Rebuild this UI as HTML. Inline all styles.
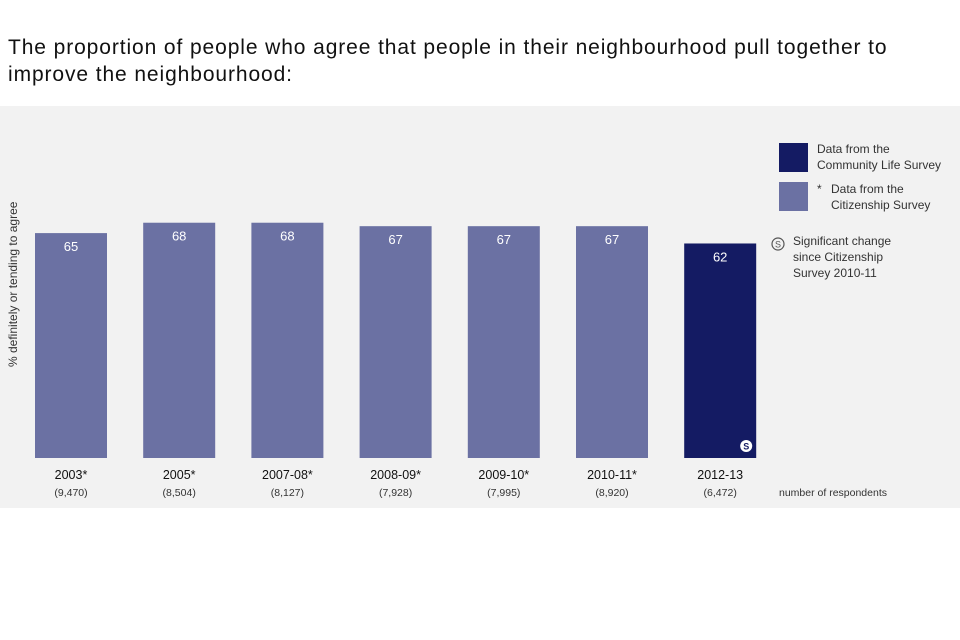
<!DOCTYPE html>
<html><head><meta charset="utf-8"><style>
body{margin:0;width:960px;height:640px;background:#fff;font-family:"Liberation Sans",sans-serif;position:relative;overflow:hidden}
#title{position:absolute;left:8px;top:34px;font-size:21px;letter-spacing:0.9px;line-height:27px;color:#111;width:952px;white-space:nowrap}
#panel{position:absolute;left:0;top:106px;width:960px;height:402px;background:#f2f2f2}
svg{position:absolute;left:0;top:0}
</style></head><body>
<div id="title">The proportion of people who agree that people in their neighbourhood pull together to<br>improve the neighbourhood:</div>
<div id="panel"></div>
<svg id="chart" width="960" height="640"></svg>
<script>
const categories=["2003*","2005*","2007-08*","2008-09*","2009-10*","2010-11*","2012-13"];
const values=[65,68,68,67,67,67,62];
const respondents=["(9,470)","(8,504)","(8,127)","(7,928)","(7,995)","(8,920)","(6,472)"];
const surveyType=["cs","cs","cs","cs","cs","cs","cls"];
const NS="http://www.w3.org/2000/svg";
const svg=document.getElementById('chart');
const baseY=458,unit=3.46,x0=35,step=108.2,bw=72;
const xPos=i=>x0+i*step;
const yPos=v=>baseY-v*unit;
function mk(t,a,txt){const e=document.createElementNS(NS,t);for(const k in a)e.setAttribute(k,a[k]);if(txt!=null)e.textContent=txt;svg.appendChild(e);return e;}
categories.forEach((c,i)=>{
  const v=values[i],x=xPos(i),y=yPos(v);
  const col=surveyType[i]==="cls"?"#141b63":"#6b71a3";
  const r=mk('rect',{x:x,y:y,width:bw,height:baseY-y,fill:col});
  
  
  const t=mk('text',{x:x+bw/2,y:y+18,'text-anchor':'middle','font-size':13,fill:'#fff'},v);
  
  
  const l=mk('text',{x:x+bw/2,y:479,'text-anchor':'middle','font-size':12.5,fill:'#111'},c);
  
  
  const n=mk('text',{x:x+bw/2,y:496,'text-anchor':'middle','font-size':10.5,fill:'#333'},respondents[i]);
  
  
  if(surveyType[i]==="cls"){
    const s=mk('circle',{cx:x+bw-10,cy:baseY-12,r:6,fill:'#fff'});
    
    
    const st=mk('text',{x:x+bw-10,y:baseY-8.5,'text-anchor':'middle','font-size':9,fill:'#141b63','font-weight':'bold'},'S');
    
    
  }
});
</script>
<svg width="960" height="640" font-family="Liberation Sans, sans-serif">
<text transform="translate(17,367) rotate(-90)" font-size="12" fill="#333">% definitely or tending to agree</text>
<text x="779" y="496" font-size="10.5" fill="#333">number of respondents</text>
<rect x="779" y="143" width="29" height="29" fill="#141b63"/>
<text x="817" y="153" font-size="12" fill="#333"><tspan x="817">Data from the</tspan><tspan x="817" dy="16">Community Life Survey</tspan></text>
<rect x="779" y="182" width="29" height="29" fill="#6b71a3"/>
<text x="817" y="193" font-size="12" fill="#333"><tspan>*</tspan><tspan x="831">Data from the</tspan><tspan x="831" dy="16">Citizenship Survey</tspan></text>
<circle cx="778" cy="244" r="6" fill="none" stroke="#555" stroke-width="1.2"/>
<text x="778" y="247.5" font-size="9" text-anchor="middle" fill="#555">S</text>
<text x="793" y="245" font-size="12" fill="#333"><tspan x="793">Significant change</tspan><tspan x="793" dy="16">since Citizenship</tspan><tspan x="793" dy="16">Survey 2010-11</tspan></text>
</svg>
</body></html>
